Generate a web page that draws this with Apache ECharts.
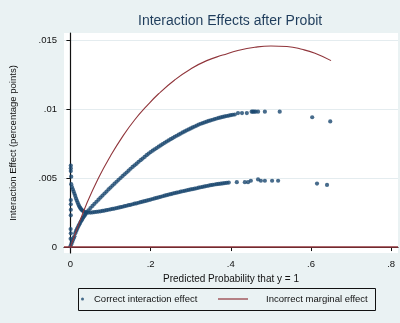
<!DOCTYPE html>
<html>
<head>
<meta charset="utf-8">
<script src="https://cdn.jsdelivr.net/npm/echarts@6/dist/echarts.min.js"></script>
<style>
  html, body { margin: 0; padding: 0; background: #eaf2f3; }
  #chart { width: 400px; height: 323px; }
</style>
</head>
<body>
<div id="chart"></div>
<script>
// Correct interaction effect, upper band: predicted probability / effect
const upperX = [
  0.000, 0.002, 0.004, 0.006, 0.008, 0.010, 0.012, 0.014, 0.016, 0.018,
  0.020, 0.022, 0.024, 0.026, 0.028, 0.030, 0.032, 0.034, 0.036, 0.038,
  0.040, 0.045, 0.050, 0.055, 0.060, 0.065, 0.070, 0.075, 0.080, 0.085,
  0.090, 0.095, 0.100, 0.105, 0.110, 0.115, 0.120, 0.125, 0.130, 0.135,
  0.140, 0.145, 0.150, 0.155, 0.160, 0.165, 0.170, 0.175, 0.180, 0.185,
  0.190, 0.195, 0.200, 0.205, 0.210, 0.215, 0.220, 0.225, 0.230, 0.235,
  0.240, 0.245, 0.250, 0.255, 0.260, 0.265, 0.270, 0.275, 0.280, 0.285,
  0.290, 0.295, 0.300, 0.305, 0.310, 0.315, 0.320, 0.325, 0.330, 0.335,
  0.340, 0.345, 0.350, 0.355, 0.360, 0.365, 0.370, 0.375, 0.380, 0.385,
  0.390, 0.395, 0.400, 0.405, 0.410,
  0.418, 0.428, 0.440, 0.452, 0.455, 0.458, 0.462, 0.468, 0.485, 0.522, 0.603, 0.648];
const upperY = [
  0.00005, 0.00020, 0.00035, 0.00050, 0.00064, 0.00078, 0.00100, 0.00115, 0.00128, 0.00140,
  0.00152, 0.00163, 0.00174, 0.00185, 0.00195, 0.00205, 0.00214, 0.00223, 0.00232, 0.00240,
  0.00250, 0.00266, 0.00282, 0.00298, 0.00313, 0.00328, 0.00343, 0.00358, 0.00373, 0.00388,
  0.00402, 0.00417, 0.00431, 0.00445, 0.00459, 0.00473, 0.00487, 0.00500, 0.00514, 0.00527,
  0.00540, 0.00553, 0.00567, 0.00580, 0.00592, 0.00604, 0.00617, 0.00629, 0.00641, 0.00653,
  0.00665, 0.00677, 0.00688, 0.00698, 0.00708, 0.00717, 0.00727, 0.00736, 0.00746, 0.00755,
  0.00764, 0.00772, 0.00781, 0.00789, 0.00798, 0.00806, 0.00814, 0.00822, 0.00830, 0.00837,
  0.00845, 0.00852, 0.00859, 0.00866, 0.00873, 0.00880, 0.00887, 0.00893, 0.00898, 0.00903,
  0.00908, 0.00913, 0.00918, 0.00922, 0.00927, 0.00931, 0.00935, 0.00939, 0.00942, 0.00946,
  0.00949, 0.00952, 0.00955, 0.00958, 0.00960,
  0.0097, 0.0097, 0.0097, 0.0098, 0.0098, 0.0098, 0.0098, 0.0098, 0.0098, 0.0098, 0.0094, 0.0091];

// Correct interaction effect, lower band (with the spread of points at p near 0)
const lowerX = [
  0.001, 0.001, 0.001, 0.002, 0.001, 0.001, 0.001, 0.001, 0.0005, 0.001, 0.0005,
  0.002, 0.004, 0.006, 0.008, 0.010, 0.012, 0.014, 0.016, 0.018, 0.020,
  0.022, 0.024, 0.026, 0.028, 0.030, 0.033, 0.036, 0.040, 0.045, 0.050,
  0.055, 0.060, 0.065, 0.070, 0.075, 0.080, 0.085, 0.090, 0.095, 0.100,
  0.105, 0.110, 0.115, 0.120, 0.125, 0.130, 0.135, 0.140, 0.145, 0.150,
  0.155, 0.160, 0.165, 0.170, 0.175, 0.180, 0.185, 0.190, 0.195, 0.200,
  0.205, 0.210, 0.215, 0.220, 0.225, 0.230, 0.235, 0.240, 0.245, 0.250,
  0.255, 0.260, 0.265, 0.270, 0.275, 0.280, 0.285, 0.290, 0.295, 0.300,
  0.305, 0.310, 0.315, 0.320, 0.325, 0.330, 0.335, 0.340, 0.345, 0.350,
  0.355, 0.360, 0.365, 0.370, 0.375, 0.380, 0.385, 0.390, 0.395,
  0.415, 0.435, 0.443, 0.450, 0.468, 0.475, 0.485, 0.503, 0.518, 0.615, 0.640];
const lowerY = [
  0.0059, 0.0057, 0.0055, 0.0051, 0.0034, 0.0031, 0.0027, 0.0023, 0.0013, 0.0010, 0.0006,
  0.00455, 0.00435, 0.00418, 0.00402, 0.00386, 0.00370, 0.00352, 0.00337, 0.00322, 0.00308,
  0.00295, 0.00285, 0.00277, 0.00270, 0.00264, 0.00258, 0.00254, 0.00251, 0.00250, 0.00250,
  0.00251, 0.00253, 0.00255, 0.00257, 0.00259, 0.00262, 0.00264, 0.00267, 0.00270, 0.00273,
  0.00276, 0.00279, 0.00282, 0.00285, 0.00289, 0.00292, 0.00296, 0.00299, 0.00303, 0.00306,
  0.00310, 0.00314, 0.00317, 0.00321, 0.00325, 0.00329, 0.00332, 0.00336, 0.00340, 0.00344,
  0.00348, 0.00352, 0.00356, 0.00360, 0.00364, 0.00368, 0.00372, 0.00376, 0.00380, 0.00383,
  0.00387, 0.00391, 0.00394, 0.00397, 0.00401, 0.00404, 0.00407, 0.00411, 0.00414, 0.00417,
  0.00420, 0.00423, 0.00426, 0.00430, 0.00433, 0.00436, 0.00439, 0.00442, 0.00445, 0.00448,
  0.00451, 0.00453, 0.00455, 0.00457, 0.00459, 0.00461, 0.00463, 0.00465, 0.00467,
  0.0047, 0.0047, 0.0047, 0.0048, 0.0049, 0.0048, 0.0048, 0.0048, 0.0048, 0.0046, 0.0045];

// Incorrect marginal effect (line)
const marginalX = [0, 0.02, 0.04, 0.07, 0.10, 0.13, 0.16, 0.19, 0.22, 0.26,
  0.30, 0.34, 0.38, 0.42, 0.46, 0.50, 0.54, 0.58, 0.61, 0.65];
const marginalY = [0, 0.0016, 0.0031, 0.0050, 0.0066, 0.0080, 0.0092, 0.0102, 0.0111, 0.0121,
  0.0129, 0.0135, 0.0139, 0.01425, 0.01447, 0.01456, 0.01452, 0.01430, 0.01403, 0.01350];

const xTicks = [0, 0.2, 0.4, 0.6, 0.8];
const yTicks = [0, 0.005, 0.01, 0.015];

const zip = (xs, ys) => xs.map((x, i) => [x, ys[i]]);
const stataNum = v => (v === 0 ? '0' : String(+v.toFixed(4)).replace(/^0/, ''));

const NAVY = '#1a476f';
const MAROON = '#90353b';
const FONT = 'Liberation Sans, Arial, sans-serif';

const chart = echarts.init(document.getElementById('chart'), null, { renderer: 'canvas' });
chart.setOption({
  backgroundColor: '#eaf2f3',
  animation: false,
  title: {
    text: 'Interaction Effects after Probit',
    left: 138, top: 14, padding: 0,
    textStyle: { fontFamily: FONT, fontSize: 14, fontWeight: 'normal', color: '#1f3d5c' }
  },
  grid: { left: 63, top: 33, right: 2, bottom: 70, backgroundColor: '#ffffff', show: true, borderWidth: 0 },
  xAxis: {
    type: 'value', min: -0.016, max: 0.817,
    name: 'Predicted Probability that y = 1',
    nameLocation: 'middle', nameGap: 19,
    nameTextStyle: { fontFamily: FONT, fontSize: 10, color: '#111' },
    axisLine: { lineStyle: { color: '#111', width: 1.2 } },
    axisTick: { length: 4, lineStyle: { color: '#111' }, customValues: xTicks },
    axisLabel: { margin: 6, fontFamily: FONT, fontSize: 9.5, color: '#111',
      customValues: xTicks, formatter: stataNum },
    splitLine: { show: false }
  },
  yAxis: {
    type: 'value', min: -0.00043, max: 0.0155,
    name: 'Interaction Effect (percentage points)',
    nameLocation: 'middle', nameGap: 46, nameRotate: 90,
    nameTextStyle: { fontFamily: FONT, fontSize: 9.5, color: '#111' },
    axisLine: { show: true, lineStyle: { color: '#111', width: 1.2 } },
    axisTick: { show: true, length: 4, lineStyle: { color: '#111' }, customValues: yTicks },
    axisLabel: { margin: 7, fontFamily: FONT, fontSize: 9.5, color: '#111',
      customValues: yTicks, formatter: stataNum },
    splitLine: { show: true, lineStyle: { color: '#e4ecef', width: 1 } }
  },
  legend: [
    {
      data: [{ name: 'Correct interaction effect', icon: 'circle' }],
      left: 81, top: 294, padding: 0,
      itemWidth: 3, itemHeight: 3,
      textStyle: { fontFamily: FONT, fontSize: 9.5, color: '#111', padding: [0, 0, 0, 5] }
    },
    {
      data: [{ name: 'Incorrect marginal effect', icon: 'rect' }],
      left: 218, top: 294, padding: 0,
      itemWidth: 30, itemHeight: 1.2,
      textStyle: { fontFamily: FONT, fontSize: 9.5, color: '#111', padding: [0, 0, 0, 13] }
    }
  ],
  graphic: [{
    type: 'rect',
    shape: { x: 78.5, y: 288.5, width: 297, height: 22 },
    style: { fill: 'none', stroke: '#111', lineWidth: 1 },
    silent: true
  }],
  series: [
    {
      name: 'Correct interaction effect',
      type: 'scatter',
      symbol: 'circle', symbolSize: 4.2,
      itemStyle: { color: NAVY },
      data: zip(upperX, upperY).concat(zip(lowerX, lowerY)),
      markLine: {
        silent: true, symbol: 'none', label: { show: false },
        lineStyle: { color: MAROON, width: 1.6, type: 'solid' },
        data: [{ yAxis: 0 }]
      }
    },
    {
      name: 'Incorrect marginal effect',
      type: 'line',
      showSymbol: false, symbol: 'none', smooth: 0.5,
      lineStyle: { color: MAROON, width: 1.1 },
      itemStyle: { color: MAROON },
      data: zip(marginalX, marginalY)
    }
  ]
});
</script>
</body>
</html>
